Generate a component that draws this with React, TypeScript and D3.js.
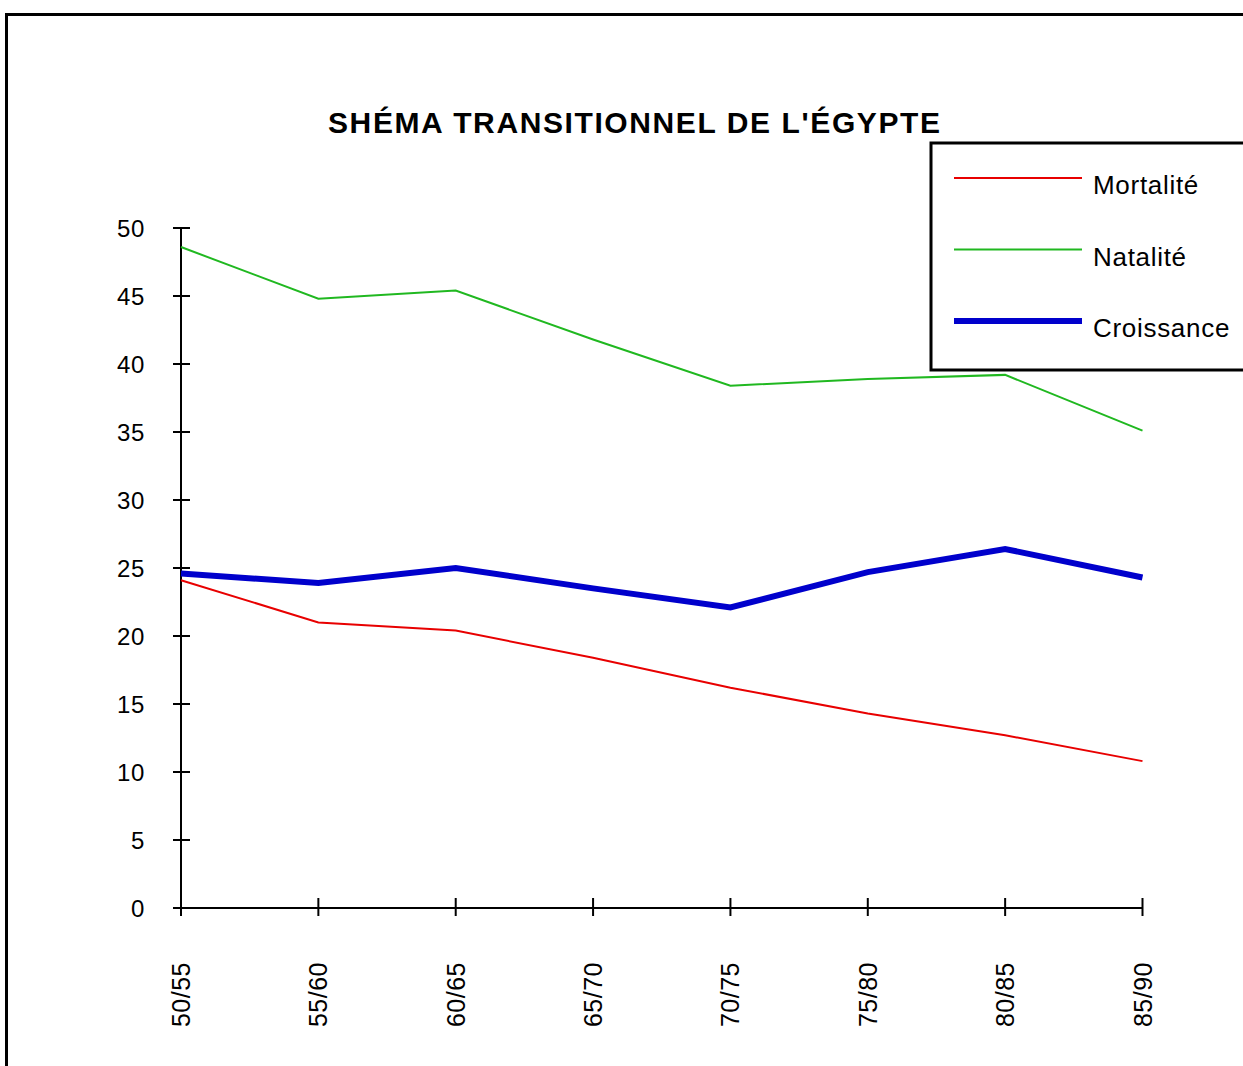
import React from 'react';
import * as d3 from 'd3';

const periods = ['50/55', '55/60', '60/65', '65/70', '70/75', '75/80', '80/85', '85/90'];
const mortalite = [24.1, 21.0, 20.4, 18.4, 16.2, 14.3, 12.7, 10.8];
const natalite = [48.6, 44.8, 45.4, 41.8, 38.4, 38.9, 39.2, 35.1];
const croissance = [24.6, 23.9, 25.0, 23.5, 22.1, 24.7, 26.4, 24.3];
const yTicks = [0, 5, 10, 15, 20, 25, 30, 35, 40, 45, 50];

const series = [
  { name: 'Mortalité', values: mortalite, color: '#e80000', width: 2 },
  { name: 'Natalité', values: natalite, color: '#20b820', width: 2 },
  { name: 'Croissance', values: croissance, color: '#0000cc', width: 6 },
];

const W = 1243;
const H = 1066;
const font = 'Arial, "Liberation Sans", sans-serif';

const App = () => {
  const x = d3.scalePoint<string>().domain(periods).range([181, 1142.5]);
  const y = d3.scaleLinear().domain([0, 50]).range([908, 228]);

  const line = d3
    .line<number>()
    .x((_, i) => x(periods[i]) as number)
    .y(d => y(d));

  return (
    <svg width={W} height={H} style={{ position: 'absolute', left: 0, top: 0, background: '#fff' }}>
      {/* outer frame */}
      <rect x={6.5} y={14.5} width={1400} height={1200} fill="none" stroke="#000" strokeWidth={3} />

      <text
        x={634}
        y={133}
        textAnchor="middle"
        fontFamily={font}
        fontWeight="bold"
        fontSize={30}
        textLength={612}
        lengthAdjust="spacing"
      >
        SHÉMA TRANSITIONNEL DE L'ÉGYPTE
      </text>

      {/* y axis */}
      <line x1={181} x2={181} y1={y(50)} y2={y(0)} stroke="#000" strokeWidth={2} />
      {yTicks.map(t => (
        <g key={t}>
          <line x1={173} x2={190} y1={y(t)} y2={y(t)} stroke="#000" strokeWidth={2} />
          <text
            x={145}
            y={y(t)}
            dy="0.36em"
            textAnchor="end"
            fontFamily={font}
            fontSize={24}
            letterSpacing={0.6}
          >
            {t}
          </text>
        </g>
      ))}

      {/* x axis */}
      <line x1={181} x2={x(periods[periods.length - 1])} y1={y(0)} y2={y(0)} stroke="#000" strokeWidth={2} />
      {periods.map(p => (
        <g key={p}>
          <line x1={x(p)} x2={x(p)} y1={898} y2={916} stroke="#000" strokeWidth={2} />
          <text
            transform={`translate(${x(p)},962) rotate(-90)`}
            dy="0.36em"
            textAnchor="end"
            fontFamily={font}
            fontSize={25}
            letterSpacing={0.5}
          >
            {p}
          </text>
        </g>
      ))}

      {/* series */}
      {series.map(s => (
        <path
          key={s.name}
          d={line(s.values) as string}
          fill="none"
          stroke={s.color}
          strokeWidth={s.width}
          strokeLinejoin="miter"
        />
      ))}

      {/* legend */}
      <rect x={931} y={143} width={400} height={227} fill="#fff" stroke="#000" strokeWidth={3} />
      {series.map((s, i) => (
        <g key={s.name} transform={`translate(0,${178 + i * 71.5})`}>
          <line x1={954} x2={1082} y1={0} y2={0} stroke={s.color} strokeWidth={s.width} />
          <text x={1093} y={16} fontFamily={font} fontSize={26} letterSpacing={0.7}>
            {s.name}
          </text>
        </g>
      ))}
    </svg>
  );
};

export default App;
